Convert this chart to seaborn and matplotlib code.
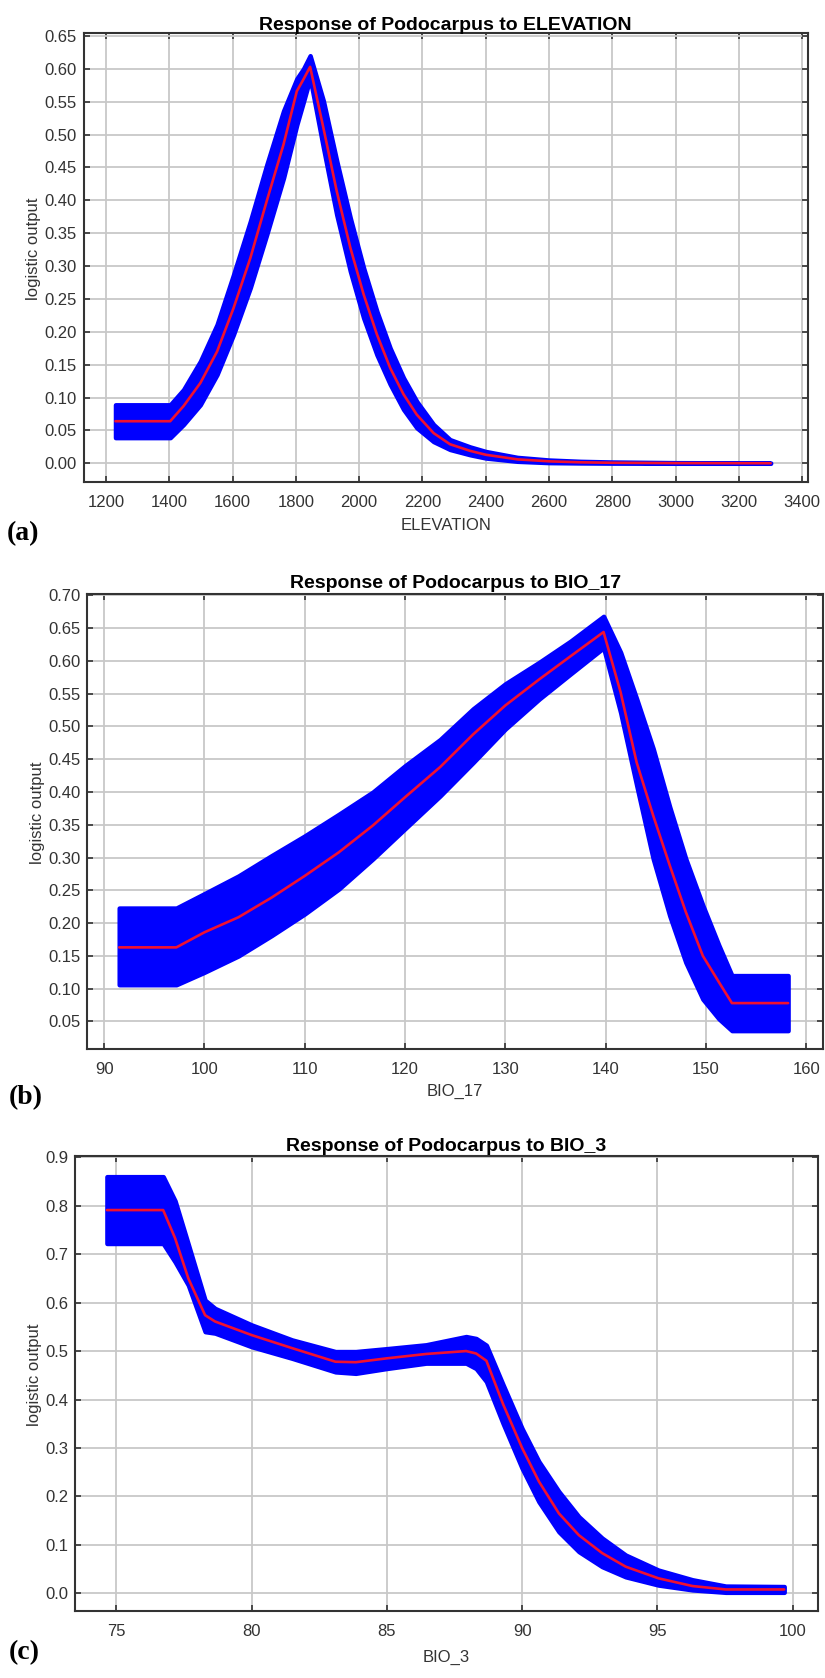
import numpy as np
import matplotlib
matplotlib.use("Agg")
import matplotlib.pyplot as plt
import seaborn as sns
from matplotlib.ticker import FormatStrFormatter

# ---------------- data ----------------
elev_x = [1230, 1403, 1445, 1498, 1551, 1603, 1656, 1708, 1761, 1803, 1824, 1845,
          1887, 1929, 1972, 2014, 2056, 2098, 2140, 2182, 2235, 2287, 2350, 2400,
          2500, 2600, 2700, 2800, 3000, 3300]
elev_mean = [0.064, 0.064, 0.087, 0.122, 0.170, 0.236, 0.312, 0.399, 0.485, 0.566, 0.584, 0.603,
             0.510, 0.414, 0.328, 0.257, 0.196, 0.145, 0.105, 0.074, 0.046, 0.029, 0.019, 0.013,
             0.006, 0.003, 0.0015, 0.0008, 0.0003, 0.0001]
elev_upper = [0.089, 0.089, 0.112, 0.155, 0.211, 0.287, 0.368, 0.454, 0.536, 0.585, 0.600, 0.620,
              0.551, 0.460, 0.373, 0.297, 0.231, 0.175, 0.130, 0.094, 0.059, 0.036, 0.025, 0.018,
              0.009, 0.005, 0.003, 0.002, 0.001, 0.0005]
elev_lower = [0.039, 0.039, 0.059, 0.089, 0.135, 0.196, 0.267, 0.348, 0.434, 0.515, 0.550, 0.586,
              0.480, 0.378, 0.292, 0.221, 0.165, 0.120, 0.082, 0.054, 0.033, 0.021, 0.013, 0.008,
              0.003, 0.001, 0.0005, 0.0002, 0.0, 0.0]

bio17_x = [91.5, 97.2, 100, 103.4, 106.7, 110, 113.4, 116.8, 120, 123.5, 126.8, 130,
           133.4, 136.5, 139.8, 141.5, 143.1, 144.75, 146.4, 148.0, 149.7, 151.3, 152.6, 158.2]
bio17_mean = [0.163, 0.163, 0.186, 0.209, 0.239, 0.272, 0.308, 0.349, 0.392, 0.438, 0.488, 0.532,
              0.572, 0.607, 0.644, 0.552, 0.445, 0.364, 0.288, 0.217, 0.150, 0.110, 0.078, 0.078]
bio17_upper = [0.223, 0.223, 0.245, 0.272, 0.303, 0.333, 0.366, 0.400, 0.440, 0.480, 0.527, 0.565,
               0.598, 0.630, 0.668, 0.613, 0.542, 0.466, 0.377, 0.298, 0.227, 0.166, 0.120, 0.120]
bio17_lower = [0.106, 0.106, 0.125, 0.150, 0.181, 0.214, 0.252, 0.298, 0.344, 0.394, 0.445, 0.496,
               0.542, 0.580, 0.620, 0.521, 0.410, 0.298, 0.211, 0.140, 0.084, 0.054, 0.036, 0.036]

bio3_x = [74.65, 76.73, 77.17, 77.66, 78.28, 78.65, 80.0, 81.5, 83.1, 83.85, 85.0, 86.45,
          87.93, 88.3, 88.68, 89.3, 90.0, 90.62, 91.36, 92.1, 92.96, 93.83, 95.04, 96.3,
          97.53, 99.69]
bio3_mean = [0.791, 0.791, 0.733, 0.650, 0.574, 0.561, 0.533, 0.506, 0.478, 0.477, 0.485, 0.494,
             0.500, 0.495, 0.480, 0.390, 0.300, 0.231, 0.165, 0.120, 0.083, 0.055, 0.031, 0.015,
             0.008, 0.008]
bio3_upper = [0.860, 0.860, 0.810, 0.720, 0.605, 0.588, 0.554, 0.523, 0.499, 0.499, 0.505, 0.513,
              0.530, 0.526, 0.512, 0.430, 0.340, 0.272, 0.210, 0.158, 0.114, 0.079, 0.048, 0.028,
              0.015, 0.014]
bio3_lower = [0.722, 0.722, 0.684, 0.636, 0.540, 0.537, 0.509, 0.485, 0.457, 0.454, 0.464, 0.475,
              0.475, 0.464, 0.437, 0.350, 0.258, 0.189, 0.127, 0.086, 0.055, 0.034, 0.017, 0.007,
              0.002, 0.002]

elev_xticks = [1200, 1400, 1600, 1800, 2000, 2200, 2400, 2600, 2800, 3000, 3200, 3400]
elev_yticks = [0.00, 0.05, 0.10, 0.15, 0.20, 0.25, 0.30, 0.35, 0.40, 0.45, 0.50, 0.55, 0.60, 0.65]
bio17_xticks = [90, 100, 110, 120, 130, 140, 150, 160]
bio17_yticks = [0.05, 0.10, 0.15, 0.20, 0.25, 0.30, 0.35, 0.40, 0.45, 0.50, 0.55, 0.60, 0.65, 0.70]
bio3_xticks = [75, 80, 85, 90, 95, 100]
bio3_yticks = [0.0, 0.1, 0.2, 0.3, 0.4, 0.5, 0.6, 0.7, 0.8, 0.9]

titles = ["Response of Podocarpus to ELEVATION",
          "Response of Podocarpus to BIO_17",
          "Response of Podocarpus to BIO_3"]
xlabels = ["ELEVATION", "BIO_17", "BIO_3"]
panel_tags = ["(a)", "(b)", "(c)"]

# ---------------- style ----------------
sns.set_theme(style="whitegrid")
plt.rcParams['font.family'] = ['Liberation Sans', 'DejaVu Sans']

W, H = 825, 1678
fig = plt.figure(figsize=(W / 100, H / 100), dpi=100)
fig.patch.set_facecolor("white")

def px_axes(left, top, right, bottom):
    return fig.add_axes([left / W, 1 - bottom / H, (right - left) / W, (bottom - top) / H])

specs = [
    dict(box=(83.5, 33.3, 808, 482.3), x=elev_x, m=elev_mean, lo=elev_lower, hi=elev_upper,
         xlim=(1129, 3418), ylim=(-0.0289, 0.654), xt=elev_xticks, yt=elev_yticks, fmt="%.2f",
         tpad=2.5, ylab_x=-0.059, xlab_y=525, tag=(23.5, 534)),
    dict(box=(87.3, 594, 823.3, 1049), x=bio17_x, m=bio17_mean, lo=bio17_lower, hi=bio17_upper,
         xlim=(88.32, 161.71), ylim=(0.008, 0.702), xt=bio17_xticks, yt=bio17_yticks, fmt="%.2f",
         tpad=4.5, ylab_x=-0.057, xlab_y=1091, tag=(26, 1098)),
    dict(box=(75, 1156, 818, 1611), x=bio3_x, m=bio3_mean, lo=bio3_lower, hi=bio3_upper,
         xlim=(73.47, 100.94), ylim=(-0.0365, 0.9026), xt=bio3_xticks, yt=bio3_yticks, fmt="%.1f",
         tpad=3.5, ylab_x=-0.044, xlab_y=1657, tag=(24, 1653)),
]

for i, s in enumerate(specs):
    l, t, r, b = s["box"]
    ax = px_axes(l, t, r, b)
    ax.set_facecolor("white")
    ax.fill_between(s["x"], s["lo"], s["hi"], facecolor="#0000ff", edgecolor="#0000ff",
                    linewidth=3.2, joinstyle="round", zorder=2)
    sns.lineplot(x=s["x"], y=s["m"], ax=ax, color="#f01030", linewidth=1.9, zorder=3,
                 sort=False, estimator=None)
    ax.set_xlim(*s["xlim"])
    ax.set_ylim(*s["ylim"])
    ax.set_xticks(s["xt"])
    ax.set_yticks(s["yt"])
    ax.yaxis.set_major_formatter(FormatStrFormatter(s["fmt"]))
    ax.grid(True, color="#c8c8c8", linewidth=1.3)
    ax.set_axisbelow(True)
    for sp in ax.spines.values():
        sp.set_visible(True)
        sp.set_color("#333333")
        sp.set_linewidth(1.5)
    ax.tick_params(axis="both", direction="in", length=4, width=1.2, color="#333333",
                   bottom=True, left=True, top=True, right=True,
                   labelsize=12, labelcolor="#333333")
    ax.tick_params(axis="x", pad=9)
    ax.tick_params(axis="y", pad=5)
    ax.set_title(titles[i], fontsize=14, fontweight="bold", color="black", pad=s["tpad"])
    ax.set_ylabel("logistic output", fontsize=12, color="#333333")
    ax.yaxis.set_label_coords(s["ylab_x"], 0.52)
    ax.set_xlabel(xlabels[i], fontsize=12, color="#333333")
    ax.xaxis.set_label_coords(0.5, -(s["xlab_y"] - b) / (b - t))
    ax.xaxis.label.set_verticalalignment("center")
    tx, ty = s["tag"]
    fig.text(tx / W, 1 - ty / H, panel_tags[i], fontsize=20, fontweight="bold",
             family=["Liberation Serif", "DejaVu Serif"], ha="center", va="center", color="black")

fig.savefig("out.png", dpi=100, facecolor="white")
